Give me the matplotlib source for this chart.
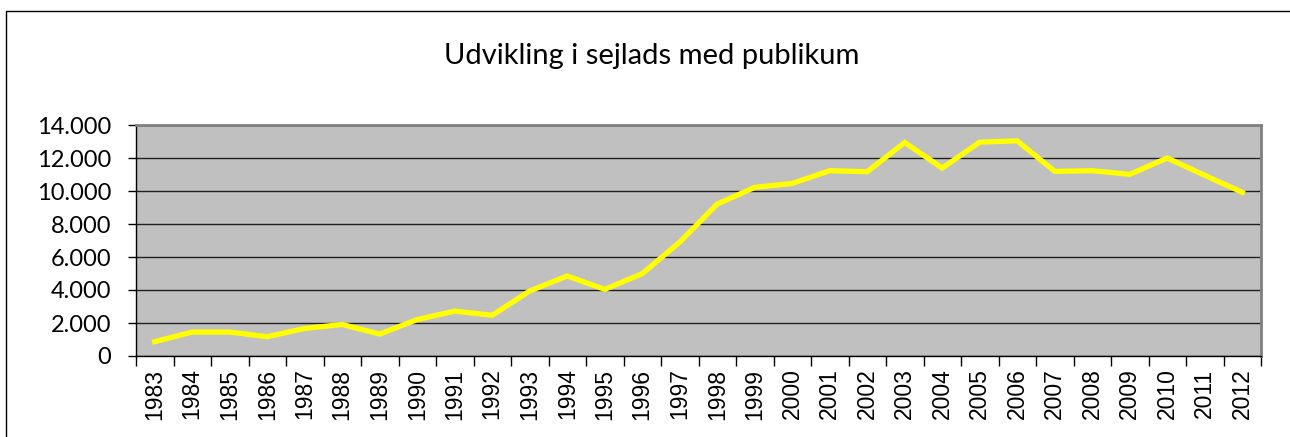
import numpy as np
import matplotlib
matplotlib.use("Agg")
import matplotlib.pyplot as plt
from matplotlib.patches import Rectangle
from matplotlib.ticker import FuncFormatter

years = [str(y) for y in range(1983, 2013)]
passengers = [870, 1450, 1450, 1170, 1670, 1910, 1330, 2210, 2720, 2470,
              3940, 4850, 4040, 4990, 6900, 9210, 10220, 10460, 11230, 11170,
              12940, 11390, 12960, 13040, 11190, 11230, 11010, 12000, 10950, 9920]
y_ticks = np.arange(0, 14001, 2000)

fig = plt.figure(figsize=(12.9, 4.37), dpi=100)
fig.patch.set_facecolor("white")

# outer chart frame (runs off right and bottom edge)
fig.patches.append(Rectangle((6 / 1290, -0.2), 1.2, 0.2 + (1 - 11 / 437),
                             transform=fig.transFigure, fill=False,
                             edgecolor="black", linewidth=1.0))

ax = fig.add_axes([136 / 1290, 1 - 356 / 437, (1261 - 136) / 1290, (356 - 125) / 437])
ax.set_facecolor("#c0c0c0")

x = np.arange(len(years))
ax.plot(x, passengers, color="#ffff00", linewidth=3.8, solid_joinstyle="miter", zorder=3)

ax.set_xlim(-0.5, len(years) - 0.5)
ax.set_ylim(0, 14000)
ax.set_yticks(y_ticks)
ax.yaxis.set_major_formatter(FuncFormatter(lambda v, p: f"{int(v):,}".replace(",", ".")))
ax.grid(axis="y", color="#202020", linewidth=1.0)
ax.set_axisbelow(True)

ax.set_xticks(x)
ax.set_xticklabels(years, rotation=90, family="Liberation Sans", fontsize=16.5)
ax.set_xticks(np.arange(-0.5, len(years)), minor=True)
ax.tick_params(axis="x", which="major", length=0, pad=9)
ax.tick_params(axis="x", which="minor", length=7, width=1, color="black")
ax.tick_params(axis="y", length=6, width=1, color="black", pad=12)
for lab in ax.get_yticklabels():
    lab.set_family("Lato")
    lab.set_fontsize(17)

for s in ["top", "right"]:
    ax.spines[s].set_color("#808080")
    ax.spines[s].set_linewidth(2)
for s in ["left", "bottom"]:
    ax.spines[s].set_color("black")
    ax.spines[s].set_linewidth(1)

fig.text(0.5 + 7 / 1290, 1 - 56 / 437, "Udvikling i sejlads med publikum", ha="center", va="center",
         family="Lato", fontsize=21)

fig.savefig("out.png", dpi=100)
